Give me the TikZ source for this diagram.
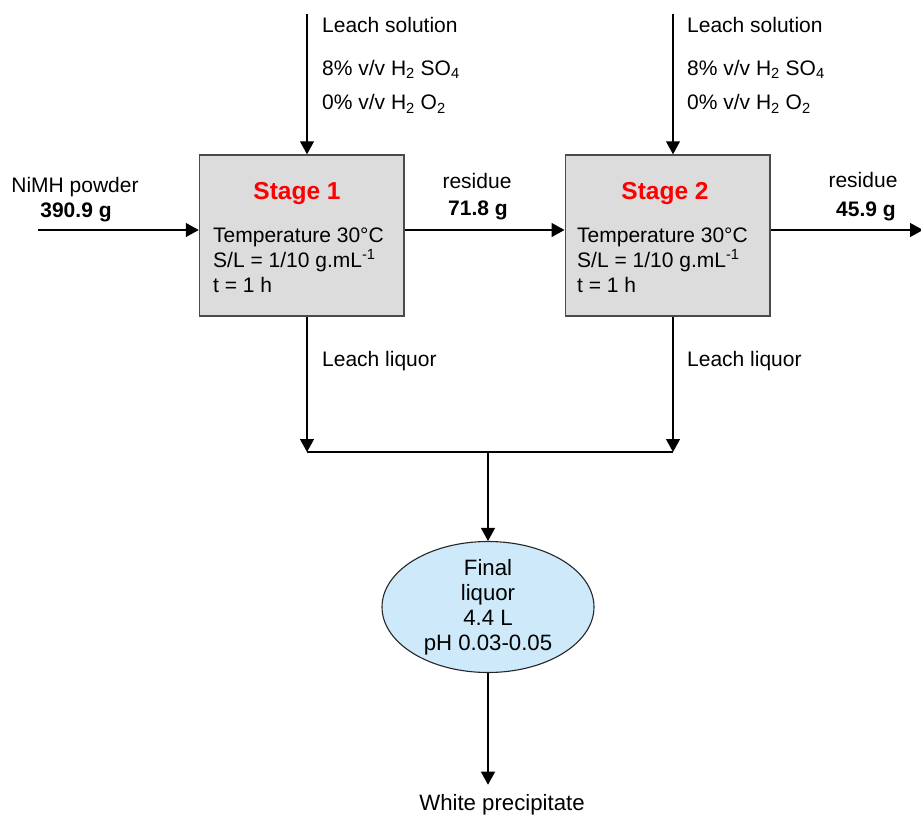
\documentclass[tikz,border=0pt]{standalone}
\usepackage{fontspec}
\setmainfont{Liberation Sans}
\usetikzlibrary{arrows.meta,shapes.geometric}
\definecolor{boxgray}{HTML}{DCDCDC}
\definecolor{boxline}{HTML}{4A4A4A}
\definecolor{liqblue}{HTML}{CDE9FA}
\begin{document}
\begin{tikzpicture}[x=1pt,y=-1pt,
 arr/.style={-{Triangle[length=13pt,width=14pt]}, line width=1.3pt, black},
 plainline/.style={line width=1.3pt, black},
 stagebox/.style={draw=boxline, line width=1.5pt, fill=boxgray, minimum width=204.5pt, minimum height=161pt, inner sep=0},
 liqell/.style={ellipse, draw=black!85, line width=1.1pt, fill=liqblue, minimum width=212pt, minimum height=131pt, inner sep=0},
 lbl/.style={anchor=base west, inner sep=0, font=\fontsize{21}{25}\selectfont},
 ctr/.style={anchor=base, inner sep=0, font=\fontsize{21}{25}\selectfont},
 bigctr/.style={anchor=base, inner sep=0, font=\fontsize{22.2}{26}\selectfont},
 bld/.style={anchor=base, inner sep=0, font=\fontsize{21}{25}\selectfont\bfseries},
 stagetitle/.style={anchor=base, inner sep=0, text=red, font=\fontsize{24.5}{28}\selectfont\bfseries}]

\useasboundingbox (0,0) rectangle (921,816);

% stage boxes
\node[stagebox] (s1) at (301.75,235.5) {};
\node[stagebox] (s2) at (667.5,235.5) {};
\node[stagetitle] (t1) at (297,199) {Stage 1};
\node[stagetitle] (t2) at (665,199) {Stage 2};
\node[lbl] (a1) at (213,242) {Temperature 30°C};
\node[lbl] (b1) at (213,267) {S/L = 1/10 g.mL\textsuperscript{-1}};
\node[lbl] (c1) at (213,292) {t = 1 h};
\node[lbl] (a2) at (577,242) {Temperature 30°C};
\node[lbl] (b2) at (577,267) {S/L = 1/10 g.mL\textsuperscript{-1}};
\node[lbl] (c2) at (577,292) {t = 1 h};

% leach solution inputs
\coordinate (in1) at (307,14);
\coordinate (in2) at (673,14);
\draw[arr] (in1) -- (in1 |- s1.north);
\draw[arr] (in2) -- (in2 |- s2.north);
\node[lbl] (ls1) at (322,33) {Leach solution};
\node[lbl] (h1) at (322,75) {8\% v/v H\textsubscript{2} SO\textsubscript{4}};
\node[lbl] (p1) at (322,110) {0\% v/v H\textsubscript{2} O\textsubscript{2}};
\node[lbl] (ls2) at (687,33) {Leach solution};
\node[lbl] (h2) at (687,75) {8\% v/v H\textsubscript{2} SO\textsubscript{4}};
\node[lbl] (p2) at (687,110) {0\% v/v H\textsubscript{2} O\textsubscript{2}};

% solids flow
\coordinate (feed) at (38,230);
\coordinate (out) at (923,230);
\draw[arr] (feed) -- (feed -| s1.west);
\draw[arr] (s1.east |- feed) -- (s2.west |- feed);
\draw[arr] (s2.east |- feed) -- (out);
\node[ctr] (np) at (75,192) {NiMH powder};
\node[bld] (nm) at (76,217) {390.9 g};
\node[ctr] (r1) at (477,188) {residue};
\node[bld] (rm1) at (478,215) {71.8 g};
\node[ctr] (r2) at (863,187) {residue};
\node[bld] (rm2) at (866,216) {45.9 g};

% leach liquor
\coordinate (j1) at (307,452);
\coordinate (j2) at (673,452);
\coordinate (jm) at (488,452);
\draw[arr] (j1 |- s1.south) -- (j1);
\draw[arr] (j2 |- s2.south) -- (j2);
\draw[plainline] (j1) -- (j2);
\node[lbl] (ll1) at (322,366) {Leach liquor};
\node[lbl] (ll2) at (687,366) {Leach liquor};

% final liquor
\node[liqell] (fl) at (488,607) {};
\draw[arr] (jm) -- (fl.north);
\node[bigctr] (f1) at (488,575) {Final};
\node[bigctr] (f2) at (488,600) {liquor};
\node[bigctr] (f3) at (488,625) {4.4 L};
\node[bigctr] (f4) at (488,650) {pH 0.03-0.05};

% precipitate
\node[bigctr] (wp) at (502,810) {White precipitate};
\draw[arr, shorten >=9pt] (fl.south) -- (wp.north -| fl.south);
\end{tikzpicture}
\end{document}
